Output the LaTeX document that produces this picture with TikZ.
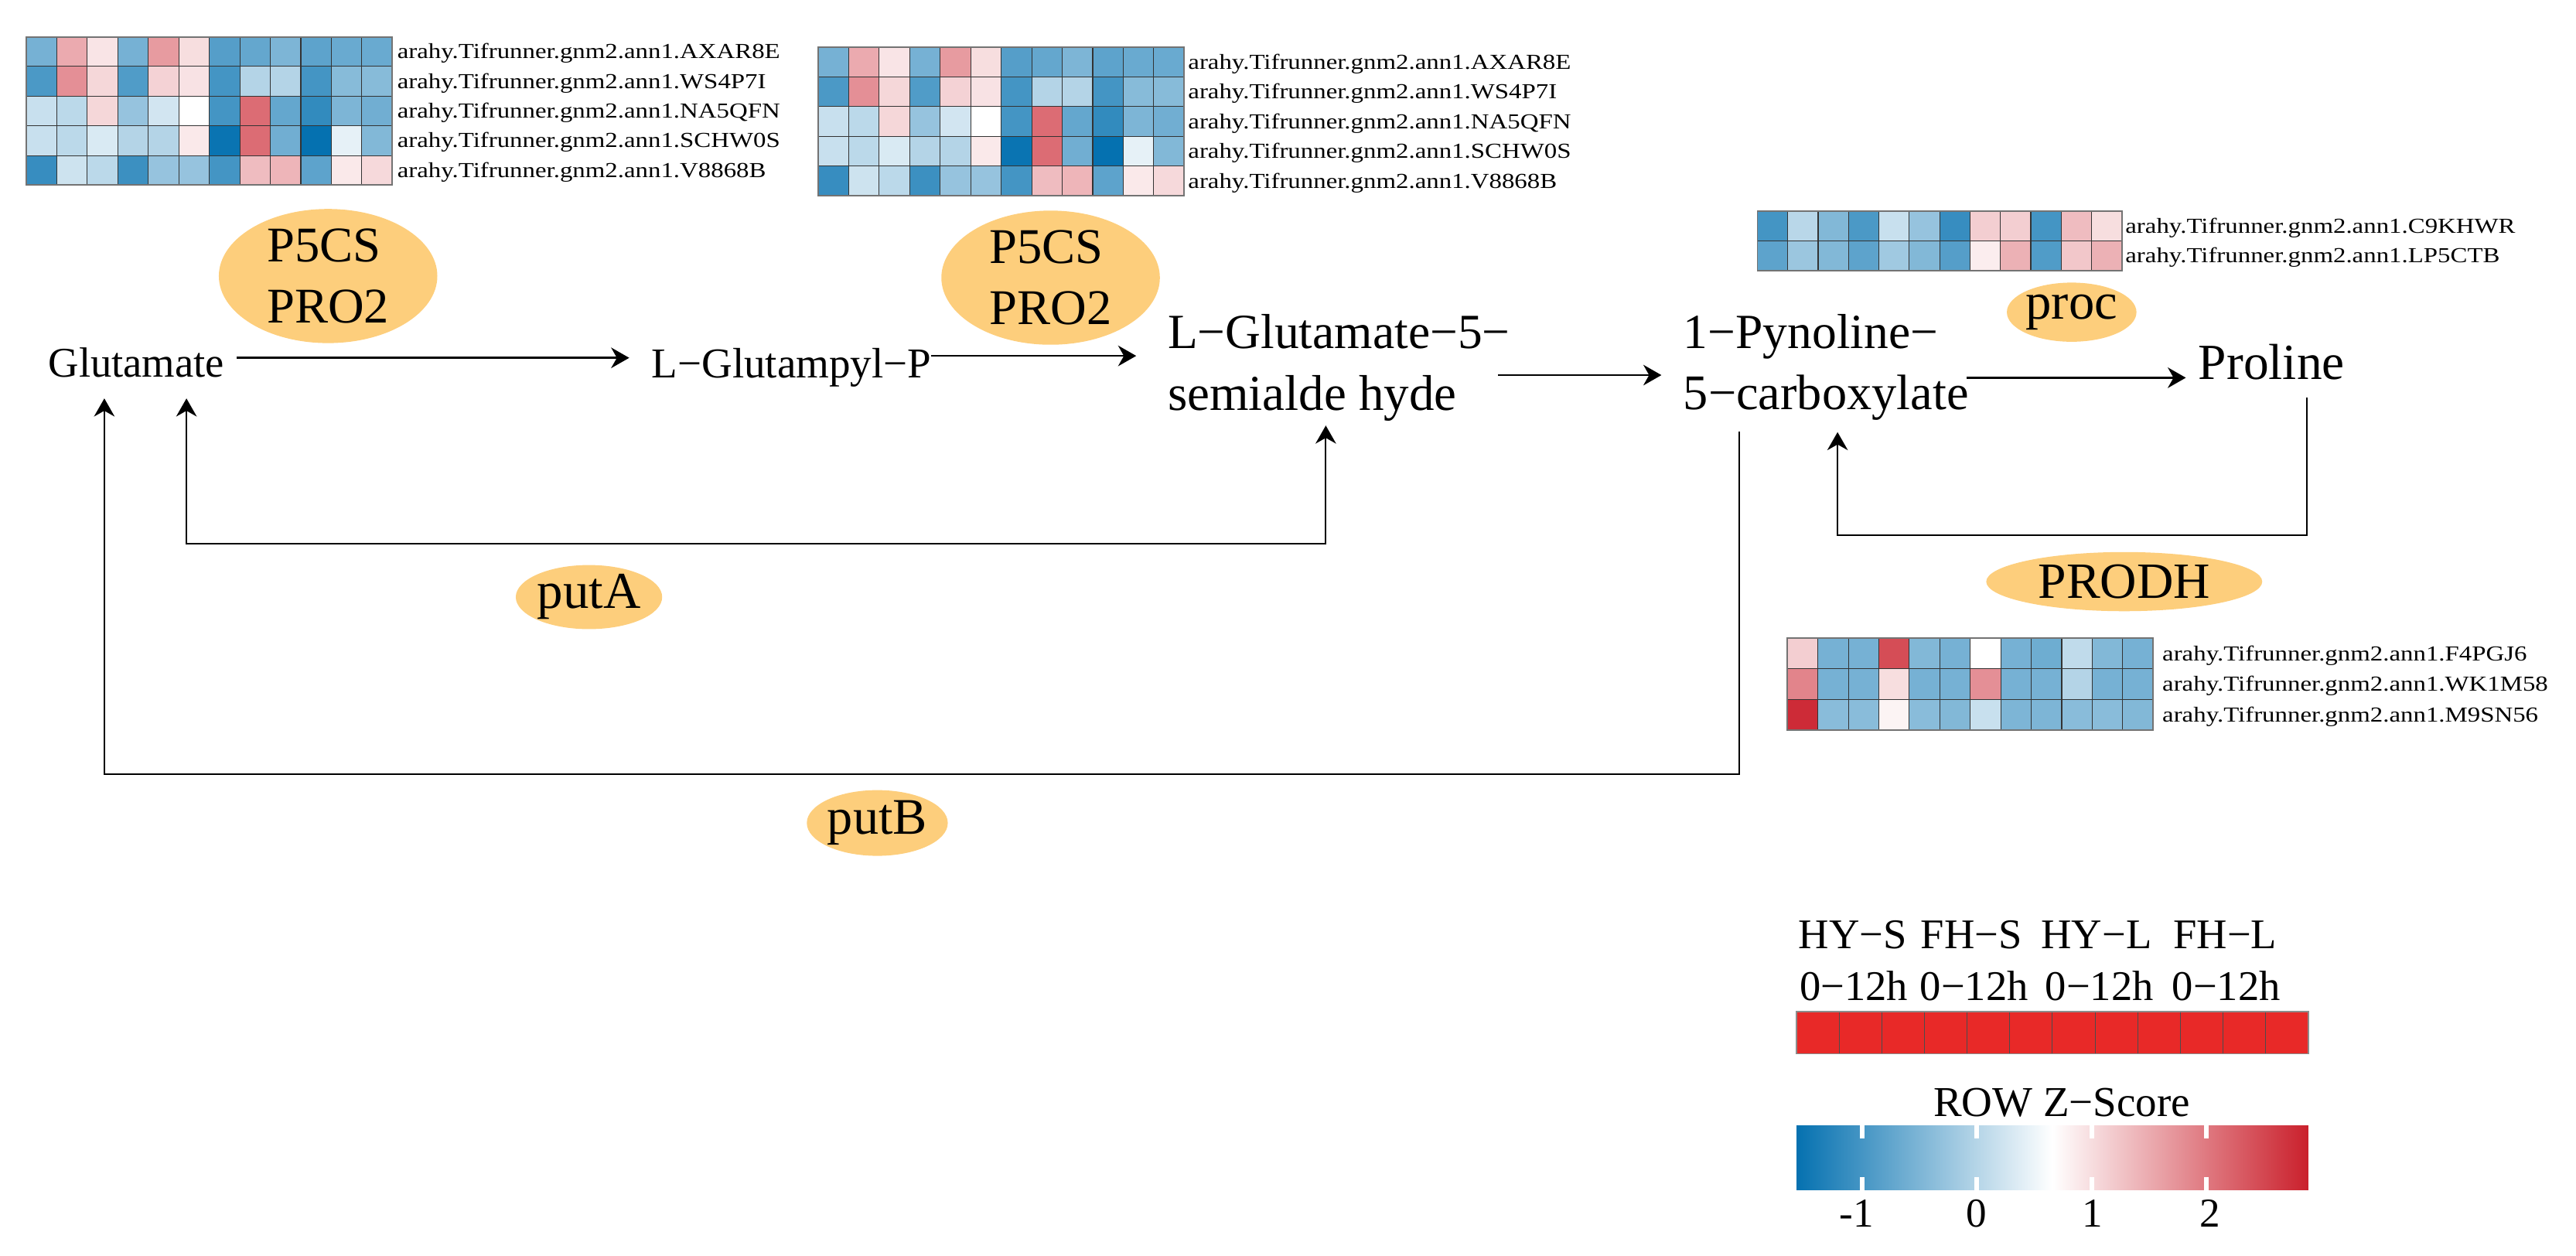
\documentclass[tikz,border=0pt]{standalone}
\usepackage{fontspec}
\setmainfont{Liberation Serif}
\usetikzlibrary{shapes.geometric,arrows.meta}
\definecolor{hmblue}{RGB}{5,113,176}
\definecolor{hmred}{RGB}{202,32,44}
\definecolor{enz}{RGB}{253,206,124}
\definecolor{barred}{RGB}{232,41,40}
% heatmap: x0, y0, cell width, cell height, number of rows, rows
\newcommand\hmap[6]{%
  \foreach \r [count=\j from 0] in {#6} {%
    \foreach \v [count=\i from 0] in \r {%
      \pgfmathtruncatemacro\hmA{abs(\v)}%
      \ifnum\v<0 \def\hmC{hmblue}\else\def\hmC{hmred}\fi
      \path[cellst, fill=\hmC!\hmA!white] ({#1+\i*#3},{#2+\j*#4}) rectangle ++(#3,#4);
    }%
  }%
  \draw[hmframe] (#1,#2) rectangle ++({12*#3},{#5*#4});
}
\begin{document}
\begin{tikzpicture}[x=1pt,y=-1pt,
  cellst/.style={draw=black!80, line width=0.5pt},
  hmframe/.style={draw=black!55, line width=0.9pt},
  metab/.style={inner sep=0pt, anchor=base west},
  glab/.style={inner sep=0pt, anchor=base west, xscale=1.19, font=\fontsize{13}{15}\selectfont},
  enzyme/.style={ellipse, fill=enz, inner sep=0pt, align=left},
  arr/.style={line width=1.25pt, -{Stealth[length=11pt,width=12.5pt,inset=3.5pt]}},
  loopline/.style={line width=1.05pt},
  leg/.style={inner sep=0pt, anchor=base west, font=\fontsize{25.7}{30}\selectfont},
  ticklab/.style={inner sep=0pt, anchor=base, font=\fontsize{25}{30}\selectfont}
]
\useasboundingbox (0,0) rectangle (1568,764);

% ---------------- heatmaps ----------------
\hmap{15.9}{22.4}{18.58}{18.06}{5}{%
 {-55,38,12,-55,45,15,-68,-62,-52,-65,-60,-60},
 {-72,50,18,-70,20,13,-75,-30,-30,-75,-48,-48},
 {-22,-27,18,-42,-18,0,-75,66,-62,-82,-52,-57},
 {-22,-27,-15,-30,-30,10,-98,66,-57,-100,-10,-50},
 {-80,-20,-27,-78,-42,-42,-75,30,33,-65,10,17}}
\node[glab] (h1a) at (241.6,35.7) {arahy.Tifrunner.gnm2.ann1.AXAR8E};
\node[glab] (h1b) at (241.6,53.8) {arahy.Tifrunner.gnm2.ann1.WS4P7I};
\node[glab] (h1c) at (241.6,71.9) {arahy.Tifrunner.gnm2.ann1.NA5QFN};
\node[glab] (h1d) at (241.6,89.9) {arahy.Tifrunner.gnm2.ann1.SCHW0S};
\node[glab] (h1e) at (241.6,108.0) {arahy.Tifrunner.gnm2.ann1.V8868B};

\hmap{498}{28.7}{18.57}{18.1}{5}{%
 {-55,38,12,-55,45,15,-68,-62,-52,-65,-60,-60},
 {-72,50,18,-70,20,13,-75,-30,-30,-75,-48,-48},
 {-22,-27,18,-42,-18,0,-75,66,-62,-82,-52,-57},
 {-22,-27,-15,-30,-30,10,-98,66,-57,-100,-10,-50},
 {-80,-20,-27,-78,-42,-42,-75,30,33,-65,10,17}}
\node[glab] (h2a) at (723,42.0) {arahy.Tifrunner.gnm2.ann1.AXAR8E};
\node[glab] (h2b) at (723,60.1) {arahy.Tifrunner.gnm2.ann1.WS4P7I};
\node[glab] (h2c) at (723,78.2) {arahy.Tifrunner.gnm2.ann1.NA5QFN};
\node[glab] (h2d) at (723,96.3) {arahy.Tifrunner.gnm2.ann1.SCHW0S};
\node[glab] (h2e) at (723,114.4) {arahy.Tifrunner.gnm2.ann1.V8868B};

\hmap{1069.7}{128.4}{18.49}{18.2}{2}{%
 {-75,-28,-50,-72,-22,-42,-80,22,22,-75,30,15},
 {-65,-40,-50,-65,-38,-50,-68,8,35,-70,25,35}}
\node[glab] (h3a) at (1293.5,141.8) {arahy.Tifrunner.gnm2.ann1.C9KHWR};
\node[glab] (h3b) at (1293.5,160.0) {arahy.Tifrunner.gnm2.ann1.LP5CTB};

\hmap{1088}{388.4}{18.55}{18.6}{3}{%
 {22,-55,-55,80,-50,-55,0,-55,-58,-25,-50,-55},
 {55,-55,-55,15,-55,-55,50,-55,-55,-30,-55,-55},
 {95,-47,-47,5,-47,-50,-22,-52,-52,-47,-47,-50}}
\node[glab] (h4a) at (1316,402.0) {arahy.Tifrunner.gnm2.ann1.F4PGJ6};
\node[glab] (h4b) at (1316,420.6) {arahy.Tifrunner.gnm2.ann1.WK1M58};
\node[glab] (h4c) at (1316,439.2) {arahy.Tifrunner.gnm2.ann1.M9SN56};

% ---------------- enzymes ----------------
\node[enzyme, minimum width=133pt, minimum height=72pt, font=\fontsize{30.4}{37.3}\selectfont] (e1) at (199.7,168) {P5CS\\PRO2};
\node[enzyme, minimum width=133pt, minimum height=72pt, font=\fontsize{30.4}{37.3}\selectfont] (e2) at (639.5,169) {P5CS\\PRO2};
\node[enzyme, minimum width=74pt, minimum height=36pt, font=\fontsize{31.4}{36}\selectfont] (eproc) at (1261,190) {proc};
\node[enzyme, minimum width=168pt, minimum height=36pt, font=\fontsize{30.9}{36}\selectfont] (eprodh) at (1293,354) {PRODH};
\node[enzyme, minimum width=79pt, minimum height=39pt, font=\fontsize{31.5}{36}\selectfont] (eputa) at (358.5,363.4) {putA};
\node[enzyme, minimum width=80pt, minimum height=40pt, font=\fontsize{31.2}{36}\selectfont] (eputb) at (534,500.9) {putB};

% ---------------- metabolites ----------------
\node[metab, font=\fontsize{25.7}{30}\selectfont] (glu) at (29.3,229.6) {Glutamate};
\node[metab, font=\fontsize{25.9}{30}\selectfont] (glp) at (396.5,229.9) {L−Glutampyl−P};
\node[metab, font=\fontsize{29.9}{36}\selectfont] (gsa) at (710.6,211.9) {L−Glutamate−5−};
\node[metab, font=\fontsize{30.6}{36}\selectfont] (gsb) at (710.6,249.5) {semialde hyde};
\node[metab, font=\fontsize{29.9}{36}\selectfont] (pya) at (1024.5,211.9) {1−Pynoline−};
\node[metab, font=\fontsize{30.3}{36}\selectfont] (pyb) at (1024.5,249.2) {5−carboxylate};
\node[metab, font=\fontsize{30.8}{36}\selectfont] (pro) at (1338,230.7) {Proline};

% ---------------- connector end points ----------------
\coordinate (a1s) at (144.2,217.8);  \coordinate (a1e) at (383,217.8);
\coordinate (a2s) at (566.8,216.6);  \coordinate (a2e) at (691.6,216.6);
\coordinate (a3s) at (911.8,228.3);  \coordinate (a3e) at (1011.3,228.3);
\coordinate (a4s) at (1197,229.9);   \coordinate (a4e) at (1330.5,229.9);
\coordinate (pl0) at (1404,242);     \coordinate (pl1) at (1404,325.6);
\coordinate (pl2) at (1118.5,325.6); \coordinate (pl3) at (1118.5,263);
\coordinate (pa0) at (807,259);      \coordinate (pa1) at (807,331);
\coordinate (pa2) at (113.5,331);    \coordinate (pa3) at (113.5,242.5);
\coordinate (pb0) at (1058.7,262.6); \coordinate (pb1) at (1058.7,471.1);
\coordinate (pb2) at (63.5,471.1);   \coordinate (pb3) at (63.5,242.5);

\draw[arr] (a1s) -- (a1e);
\draw[arr] (a2s) -- (a2e);
\draw[arr] (a3s) -- (a3e);
\draw[arr] (a4s) -- (a4e);
\draw[arr, line width=1.05pt] (pl0) -- (pl1) -- (pl2) -- (pl3);
\draw[arr, line width=1.05pt, {Stealth[length=11pt,width=12.5pt,inset=3.5pt]}-{Stealth[length=11pt,width=12.5pt,inset=3.5pt]}] (pa0) -- (pa1) -- (pa2) -- (pa3);
\draw[arr, line width=1.05pt] (pb0) -- (pb1) -- (pb2) -- (pb3);

% ---------------- legend ----------------
\node[leg] (lg1) at (1094.6,577.2) {HY−S};
\node[leg] (lg2) at (1169,577.2) {FH−S};
\node[leg] (lg3) at (1242.3,577.2) {HY−L};
\node[leg] (lg4) at (1322.7,577.2) {FH−L};
\node[leg] (lt1) at (1095.3,608.9) {0−12h};
\node[leg] (lt2) at (1168.5,608.9) {0−12h};
\node[leg] (lt3) at (1244.8,608.9) {0−12h};
\node[leg] (lt4) at (1322,608.9) {0−12h};
\foreach \i in {0,...,11} {
  \path[fill=barred, draw=black!70, line width=0.5pt] ({1093.5+\i*25.96},615.8) rectangle ++(25.96,25.5);
}
\draw[draw=black!45, line width=0.8pt] (1093.5,615.8) rectangle (1405,641.3);

\node[inner sep=0pt, anchor=base, font=\fontsize{25.9}{30}\selectfont] (zs) at (1255,679.5) {ROW Z−Score};
\shade[left color=hmblue, right color=hmred, middle color=white] (1093.5,685) rectangle (1405,724.2);
\foreach \t in {1133.4,1203.2,1273.2,1343} {
  \fill[white] ({\t-1.5},684.5) rectangle ({\t+1.5},692.8);
  \fill[white] ({\t-1.5},716.4) rectangle ({\t+1.5},724.7);
}
\node[ticklab] (tk1) at (1130,746.7) {-1};
\node[ticklab] (tk2) at (1203,746.7) {0};
\node[ticklab] (tk3) at (1273.5,746.7) {1};
\node[ticklab] (tk4) at (1345,746.7) {2};
\end{tikzpicture}
\end{document}
